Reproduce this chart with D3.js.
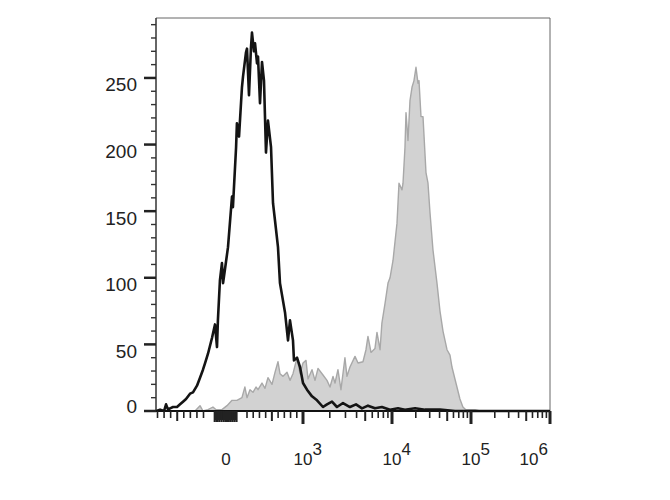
<!DOCTYPE html>
<html>
<head>
<meta charset="utf-8">
<script src="https://cdn.jsdelivr.net/npm/d3@7"></script>
<style>
  html, body { margin: 0; padding: 0; background: #fff; }
  svg { display: block; }
  text { font-family: "Liberation Sans", Arial, sans-serif; fill: #222; }
</style>
</head>
<body>
<svg id="chart" width="670" height="500"></svg>
<script>
// ---------- DATA ----------
// Unstained / isotype control (black line): fluorescence value, event count
const controlX = [-820,-761,-700,-670,-640,-609,-564,-503,-457,-412,-366,-305,-260,-199,-153,-108,-93,-80,-62,-49,-40,-36,-27,-18,-13,0,9.5,28.6,33,48,52,62,76,81,95,100,132,164,180,212,229,261,277,309,341,373,405,437,486,518,550,598,630,711,759,791,839,855,904,952,1000,1109,1262,1437,1677,1860,2117,2408,2815,3370,3940,4600,5370,6440,7700,9500,11900,14600,19600,26200,40500,62800,1000000];
const controlCount = [0,1,0,5,1,2,3,3,5,7,9,13,14,19,25,31,36,43,55,65,48,68,98,111,96,112,123,161,153,198,216,206,243,251,269,272,237,273,284,270,276,261,266,231,262,248,194,218,198,156,143,123,96,74,53,68,53,38,40,33,21,16,11,8,3,5,7,3,6,3,5,2,4,2,3,1,2,1,2,1,1,0,0];

// Stained sample (grey filled histogram)
const stainedX = [-229,-153,-108,-80,-58,-44,-18,4.8,28.6,52,76,90,100,148,196,245,277,341,389,437,502,550,598,630,679,743,791,839,904,952,1000,1081,1138,1262,1364,1474,1677,1860,2010,2174,2290,2470,2670,2960,3120,3370,3840,4150,4720,5100,5370,5810,6440,6780,7340,7700,8360,9020,9500,10300,11570,12260,13390,13780,14600,15040,15940,16890,17910,18980,20120,21330,21960,23280,24680,26930,28550,30260,33000,37100,40500,44200,49700,54200,57400,66400,72400,79000,86000,97000,112000,130000];
const stainedCount = [0,4,0,1,3,1,1,4,8,8,10,18,10,16,14,18,16,21,17,25,20,29,37,28,26,29,23,28,40,28,36,38,24,31,23,32,27,23,18,26,21,31,16,40,26,33,41,36,37,46,56,44,47,59,46,66,81,96,100,113,141,171,166,171,198,224,203,233,243,248,258,246,248,221,221,179,171,149,121,96,75,60,46,42,33,18,9,3,1,1,1,0];

// Axis ticks
const yMajorTicks = [0, 50, 100, 150, 200, 250];
const yMinorTicks = [10,20,30,40,60,70,80,90,110,120,130,140,160,170,180,190,210,220,230,240,260,270,280,290];
const xLabelValues = [0, 1e3, 1e4, 1e5, 1e6];
const xLabelBase = ["0", "10", "10", "10", "10"];
const xLabelExp = ["", "3", "4", "5", "6"];
const xDecades = [1e3, 1e4, 1e5, 1e6];
const xLinearTicks = [-800,-700,-600,-500,-400,-300,-200,-100,100,200,300,400,500,600,700,800,900];
const xZeroTicks = [-50,-45,-40,-35,-30,-25,-20,-15,-10,-5,0,5,10,15,20,25,30,35,40,45,50];

// ---------- LAYOUT ----------
const L = 156, R = 550, T = 18, B = 411;
const svg = d3.select("#chart");

// y scale (counts)
const y = d3.scaleLinear().domain([0, 295]).range([B, T]);

// x scale: biexponential-style display (linear near zero, log above 10^3)
const xLin = d3.scaleLinear().domain([-823, -100, 0, 100, 1000]).range([L, 203.5, 226, 247, 303]);
const xLog = d3.scaleLog().domain(xDecades).range([303, 392, 471, R]);
const x = v => (v <= 1000 ? xLin(v) : xLog(v));

// ---------- HISTOGRAMS ----------
const stained = stainedX.map((v, i) => [v, stainedCount[i]]);
const control = controlX.map((v, i) => [v, controlCount[i]]);

const area = d3.area().x(d => x(d[0])).y0(y(0)).y1(d => y(d[1]));
const line = d3.line().x(d => x(d[0])).y(d => y(d[1]));

svg.append("path").datum(stained)
  .attr("d", area)
  .attr("fill", "#d2d2d2")
  .attr("stroke", "#a8a8a8")
  .attr("stroke-width", 1.4)
  .attr("stroke-linejoin", "round");

svg.append("path").datum(control)
  .attr("d", line)
  .attr("fill", "none")
  .attr("stroke", "#141414")
  .attr("stroke-width", 2.6)
  .attr("stroke-linejoin", "round");

// ---------- FRAME ----------
svg.append("line").attr("x1", L).attr("x2", R).attr("y1", T).attr("y2", T)
  .attr("stroke", "#666").attr("stroke-width", 1);
svg.append("line").attr("x1", R).attr("x2", R).attr("y1", T).attr("y2", B)
  .attr("stroke", "#666").attr("stroke-width", 1);
svg.append("line").attr("x1", L).attr("x2", L).attr("y1", T).attr("y2", B)
  .attr("stroke", "#333").attr("stroke-width", 1.5);
svg.append("line").attr("x1", L - 1).attr("x2", R).attr("y1", B).attr("y2", B)
  .attr("stroke", "#111").attr("stroke-width", 2);

// ---------- Y AXIS ----------
svg.selectAll(".ymaj").data(yMajorTicks).join("line")
  .attr("x1", L - 12).attr("x2", L).attr("y1", d => y(d)).attr("y2", d => y(d))
  .attr("stroke", "#222").attr("stroke-width", 2.5);
svg.selectAll(".ymin").data(yMinorTicks).join("line")
  .attr("x1", L - 5).attr("x2", L).attr("y1", d => y(d)).attr("y2", d => y(d))
  .attr("stroke", "#333").attr("stroke-width", 1.4);
svg.selectAll(".ylab").data(yMajorTicks).join("text")
  .attr("x", L - 19)
  .attr("y", d => y(d) + (d === 0 ? 2 : 13.5))
  .attr("text-anchor", "end")
  .attr("font-size", 19)
  .text(d => d);

// ---------- X AXIS ----------
const decadeMinors = [];
[1e3, 1e4, 1e5].forEach(dec => { for (let k = 2; k <= 9; k++) decadeMinors.push(k * dec); });

function xTick(vals, len, w) {
  svg.append("g").selectAll("line").data(vals).join("line")
    .attr("x1", d => x(d)).attr("x2", d => x(d))
    .attr("y1", B).attr("y2", B + len)
    .attr("stroke", "#222").attr("stroke-width", w);
}
xTick(xLinearTicks.filter(v => Math.abs(v) !== 500), 7, 1.6);
xTick(xLinearTicks.filter(v => Math.abs(v) === 500), 10, 2);
xTick(decadeMinors.filter(v => v / Math.pow(10, Math.floor(Math.log10(v))) !== 5), 7, 1.6);
xTick(decadeMinors.filter(v => Math.abs(v / Math.pow(10, Math.floor(Math.log10(v))) - 5) < 1e-9), 10, 2);
xTick(xZeroTicks.filter(v => v % 10 !== 0), 9, 1.6);
xTick(xZeroTicks.filter(v => v % 10 === 0), 11, 2.2);
xTick(xDecades, 13, 3);

const xl = svg.append("g").selectAll("text").data(xLabelValues).join("text")
  .attr("x", d => x(d))
  .attr("y", 465)
  .attr("font-size", 17)
  .attr("text-anchor", "middle");
xl.append("tspan").text((d, i) => xLabelBase[i]);
xl.append("tspan").attr("dy", -10).text((d, i) => xLabelExp[i]);
// re-center on the base "10", keeping labels inside the frame
xl.each(function (d, i) {
  const el = d3.select(this);
  if (!xLabelExp[i]) return;
  const baseW = this.firstChild.getComputedTextLength();
  const total = this.getComputedTextLength();
  let startX = x(d) - baseW / 2;
  if (startX + total > R - 2) startX = R - 2 - total;
  el.attr("text-anchor", "start").attr("x", startX);
});
</script>
</body>
</html>
